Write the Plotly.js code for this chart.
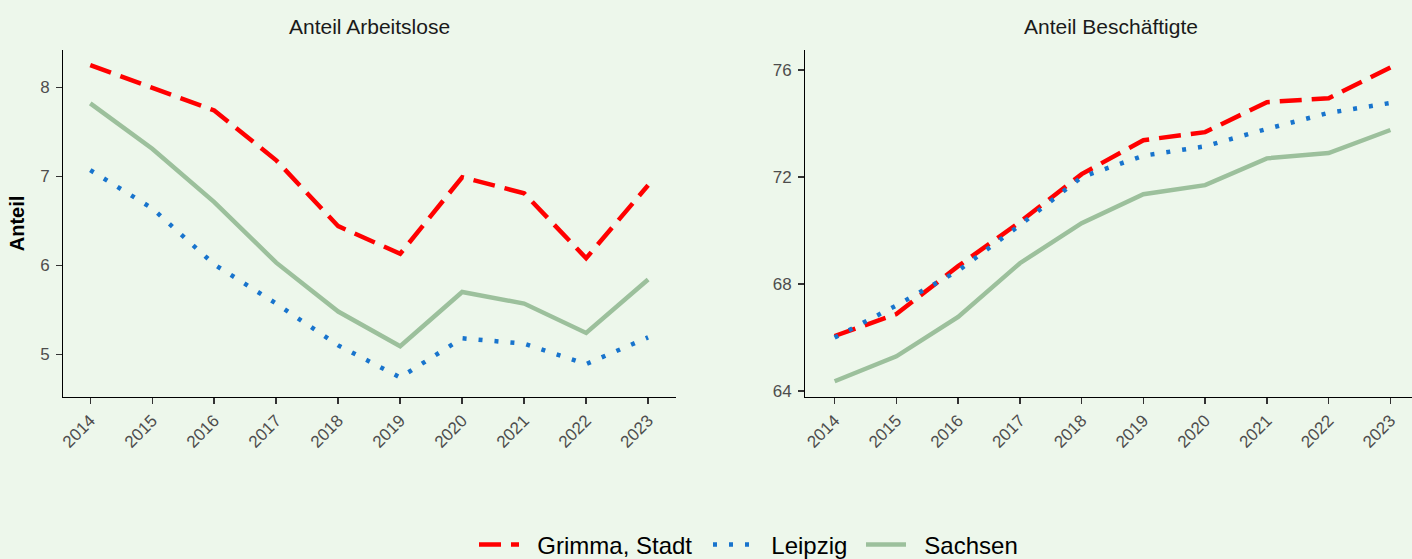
<!DOCTYPE html>
<html>
<head>
<meta charset="utf-8">
<script src="https://cdn.plot.ly/plotly-3.0.1.min.js"></script>
<style>html,body{margin:0;padding:0;background:#EDF7EB;}#chart{width:1412px;height:559px;}</style>
</head>
<body>
<div id="chart"></div>
<script>
const years = [2014, 2015, 2016, 2017, 2018, 2019, 2020, 2021, 2022, 2023];
const yearLabels = years.map(String);

const arbeitsloseGrimma  = [8.25, 7.99, 7.74, 7.18, 6.44, 6.13, 6.99, 6.81, 6.08, 6.90];
const arbeitsloseLeipzig = [7.07, 6.64, 6.01, 5.57, 5.10, 4.74, 5.18, 5.12, 4.89, 5.19];
const arbeitsloseSachsen = [7.82, 7.31, 6.71, 6.03, 5.48, 5.09, 5.70, 5.57, 5.24, 5.84];

const beschGrimma  = [66.06, 66.88, 68.67, 70.32, 72.11, 73.38, 73.68, 74.80, 74.95, 76.10];
const beschLeipzig = [66.00, 67.20, 68.50, 70.20, 72.00, 72.80, 73.15, 73.80, 74.40, 74.77];
const beschSachsen = [64.37, 65.30, 66.77, 68.78, 70.28, 71.36, 71.70, 72.70, 72.90, 73.76];

const seriesNames = ["Grimma, Stadt", "Leipzig", "Sachsen"];
const panelTitles = ["Anteil Arbeitslose", "Anteil Beschäftigte"];
const yTicksLeft = [5, 6, 7, 8];
const yTicksRight = [64, 68, 72, 76];

const styles = [
  {color: "#FF0000", dash: "22px,10px"},
  {color: "#1874CD", dash: "4px,12px"},
  {color: "#9CC09C", dash: "solid"}
];
const legendIds = ["legend", "legend2", "legend3"];

function mk(y, i, xa, ya, show) {
  return {x: years, y: y, type: "scatter", mode: "lines", name: "\u00A0\u00A0" + seriesNames[i],
    xaxis: xa, yaxis: ya, showlegend: show, legendgroup: seriesNames[i], legend: legendIds[i],
    line: {color: styles[i].color, width: 4.5, dash: styles[i].dash}};
}

const data = [
  mk(arbeitsloseGrimma, 0, "x", "y", true),
  mk(arbeitsloseLeipzig, 1, "x", "y", true),
  mk(arbeitsloseSachsen, 2, "x", "y", true),
  mk(beschGrimma, 0, "x2", "y2", false),
  mk(beschLeipzig, 1, "x2", "y2", false),
  mk(beschSachsen, 2, "x2", "y2", false)
];

const FAM = "Liberation Sans, Arial, sans-serif";
const tickFont = {family: FAM, size: 17, color: "#4D4D4D"};
const xBase = {tickmode: "array", tickvals: years, ticktext: yearLabels, tickangle: -45,
  ticks: "outside", ticklen: 6, tickwidth: 1.5, tickcolor: "#333333",
  showline: true, linecolor: "#000000", linewidth: 1, showgrid: false, zeroline: false,
  automargin: false, tickfont: tickFont, fixedrange: true};
const yBase = {ticks: "outside", ticklen: 6, tickwidth: 1.5, tickcolor: "#333333",
  showline: true, linecolor: "#000000", linewidth: 1, showgrid: false, zeroline: false,
  ticklabelstandoff: 3, automargin: false,
  tickfont: tickFont, fixedrange: true};

function leg(px) {
  return {orientation: "h", x: px/1412, xanchor: "left", y: 14/559, yanchor: "middle",
    font: {size: 24, color: "#000000", family: FAM},
    bgcolor: "rgba(0,0,0,0)", itemwidth: 40};
}

const layout = {
  width: 1412, height: 559,
  paper_bgcolor: "#EDF7EB", plot_bgcolor: "#EDF7EB",
  margin: {l: 0, r: 0, t: 0, b: 0, autoexpand: false},
  font: {family: FAM},
  xaxis: Object.assign({}, xBase, {domain: [63/1412, 676/1412], range: [2013.56, 2023.45], anchor: "y"}),
  yaxis: Object.assign({}, yBase, {domain: [162/559, 509/559], range: [4.52, 8.42], tickvals: yTicksLeft, anchor: "x",
    title: {text: "Anteil", font: {size: 20, color: "#000000", family: FAM, weight: "bold"}, standoff: 10}}),
  xaxis2: Object.assign({}, xBase, {domain: [805/1412, 1], range: [2013.52, 2023.35], anchor: "y2"}),
  yaxis2: Object.assign({}, yBase, {domain: [162/559, 509/559], range: [63.78, 76.75], tickvals: yTicksRight, anchor: "x2"}),
  showlegend: true,
  legend: leg(474),
  legend2: leg(708),
  legend3: leg(861),
  annotations: [
    {text: panelTitles[0], xref: "paper", yref: "paper", x: 369.5/1412, y: (559-27)/559,
     xanchor: "center", yanchor: "middle", showarrow: false, font: {size: 21, color: "#1A1A1A"}},
    {text: panelTitles[1], xref: "paper", yref: "paper", x: 1111/1412, y: (559-27)/559,
     xanchor: "center", yanchor: "middle", showarrow: false, font: {size: 21, color: "#1A1A1A"}},
    {text: "(in Prozent)", xref: "paper", yref: "paper", x: 5/1412, y: 1 + 12/559,
     xanchor: "left", yanchor: "bottom", showarrow: false, font: {size: 20, color: "#1A1A1A"}}
  ]
};

Plotly.newPlot("chart", data, layout, {staticPlot: true});
</script>
</body>
</html>
